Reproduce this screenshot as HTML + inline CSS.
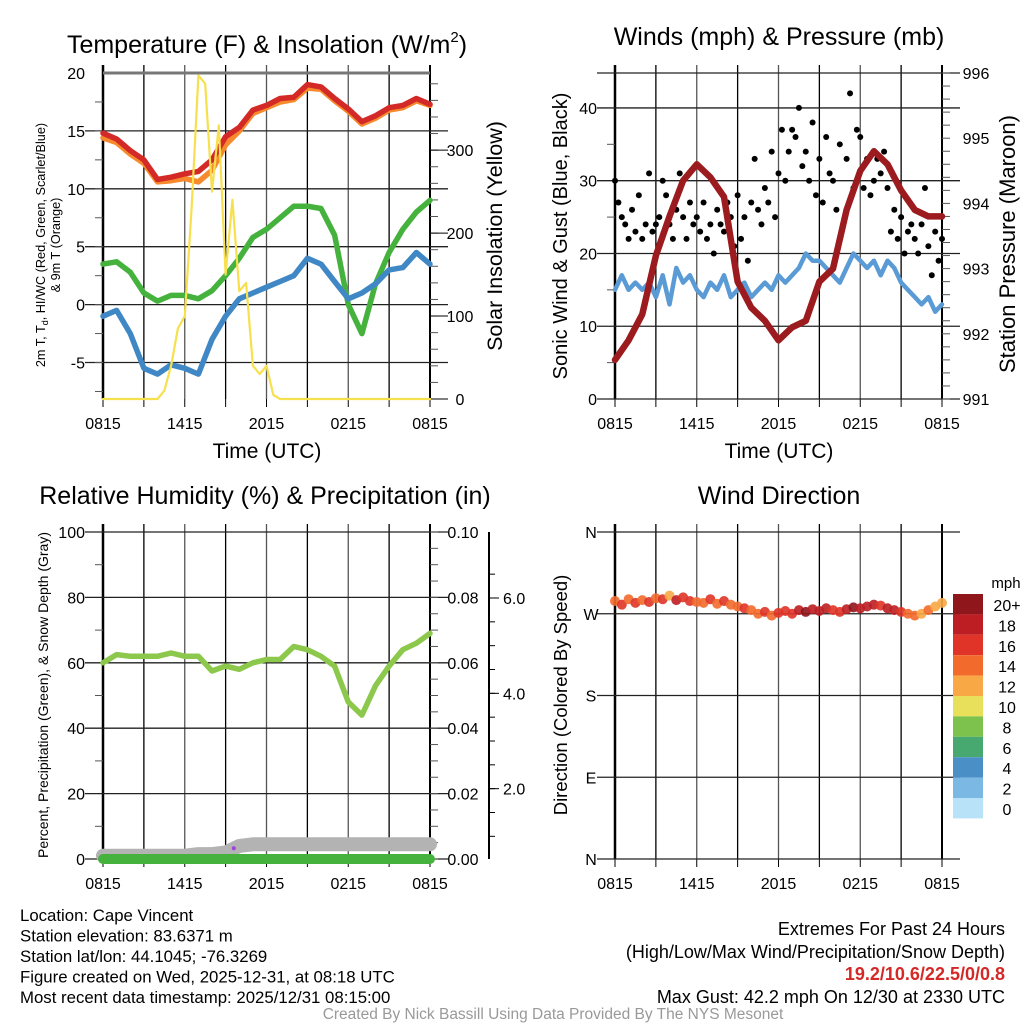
<!DOCTYPE html>
<html><head><meta charset="utf-8"><style>
body{margin:0;background:#fff;}
svg{display:block;font-family:"Liberation Sans",sans-serif;}
</style></head><body>
<svg id="s" width="1024" height="1024" viewBox="0 0 1024 1024" xmlns="http://www.w3.org/2000/svg"></svg>
<script>
// ---- data ----
const timeLabels = ["0815","1415","2015","0215","0815"];
const tempRed = [14.8,14.3,13.3,12.5,10.8,11.0,11.3,11.5,12.5,14.5,15.3,16.8,17.2,17.8,17.9,19.0,18.8,17.8,16.9,15.8,16.3,17.0,17.2,17.8,17.3];
const temp9mOrange = [14.4,14.0,13.0,12.2,10.6,10.7,10.9,10.6,11.6,13.8,15.0,16.5,17.0,17.5,17.7,18.7,18.6,17.6,16.7,15.6,16.1,16.8,17.0,17.6,17.2];
const dewGreen = [3.5,3.7,2.8,1.0,0.3,0.8,0.8,0.5,1.2,2.5,4.0,5.8,6.5,7.5,8.5,8.5,8.3,6.0,0.0,-2.5,1.8,4.5,6.5,8.0,9.0];
const windChillBlue = [-1.0,-0.5,-2.5,-5.5,-6.0,-5.2,-5.5,-6.0,-3.0,-1.0,0.5,1.0,1.5,2.0,2.5,4.0,3.5,2.0,0.5,1.0,1.8,3.0,3.2,4.5,3.5];
const solarYellow = [0,0,0,0,0,0,0,0,0,10,40,85,100,230,390,380,250,330,150,240,130,140,40,30,40,5,0,0,0,0,0,0,0,0,0,0,0,0,0,0,0,0,0,0,0,0,0,0,0];
const windSpeed = [15,17,15,16,15,16,14,17,13,18,16,17,15,14,16,15,17,14,15,16,14,15,16,15,17,16,17,18,20,19,19,18,17,16,18,20,19,18,19,17,19,18,16,15,14,13,14,12,13];
const windGust = [30,27,25,24,22,26,23,28,22,24,31,23,24,25,30,28,24,22,26,31,25,22,27,24,25,23,27,22,24,20,26,24,23,27,25,21,28,22,25,19,27,33,26,24,29,27,34,25,31,37,30,34,37,36,40,32,34,30,38,28,33,27,36,31,30,26,35,24,33,42,29,37,36,29,33,28,30,33,31,34,29,23,26,22,25,20,23,24,22,20,24,29,21,17,23,19,22];
const pressure = [991.6,991.9,992.3,993.2,993.8,994.35,994.6,994.4,994.1,992.8,992.4,992.2,991.9,992.1,992.2,992.8,993.0,993.9,994.5,994.8,994.6,994.2,993.9,993.8,993.8];
const rhGreen = [60,62.5,62,62,62,63,62,62,57.5,59,58,60,61,61,65,64,62,59,48,44,53,59,64,66,69];
const snowGray = [1,1,1,1,1,1,1,1.5,1.5,2,4,4.5,4.5,4.5,4.5,4.5,4.5,4.5,4.5,4.5,4.5,4.5,4.5,4.5,4.5];
const precipGreen = [0,0,0,0,0,0,0,0,0,0,0,0,0,0,0,0,0,0,0,0,0,0,0,0,0];
const windDir = [284,280,286,282,285,283,287,286,290,285,288,284,283,282,286,281,284,280,278,276,274,270,272,268,271,273,270,274,272,275,273,276,274,272,275,277,276,278,280,279,276,274,272,270,268,270,274,278,282];
const legendLabels = ["20+","18","16","14","12","10","8","6","4","2","0"];
const legendColors = ["#8f161b","#bd1e24","#df3427","#f26a2c","#f8a845","#e8e05a","#7cc24c","#47a870","#4a8fc6","#7cb8e4","#b8e2f8"];
const infoLines = ["Location: Cape Vincent","Station elevation: 83.6371 m","Station lat/lon: 44.1045; -76.3269","Figure created on Wed, 2025-12-31, at 08:18 UTC","Most recent data timestamp: 2025/12/31 08:15:00"];

const NS="http://www.w3.org/2000/svg";
const svg=document.getElementById('s');
function mk(tag,attrs,name,parent){
  const el=document.createElementNS(NS,tag);
  for(const k in attrs) el.setAttribute(k,attrs[k]);
  
  
  (parent||svg).appendChild(el);
  return el;
}
function txt(x,y,s,size,anchor,name,extra){
  const a=Object.assign({x:x,y:y,'font-size':size,'text-anchor':anchor||'middle',fill:'#000'},extra||{});
  const t=mk('text',a,name);
  t.textContent=s;
  return t;
}
function scale(d0,d1,r0,r1){return v=>r0+(v-d0)/(d1-d0)*(r1-r0);}
function path(xs,ys,vals,fx,fy,stroke,w,name){
  let d='';
  vals.forEach((v,i)=>{d+=(i?'L':'M')+fx(xs(i)).toFixed(1)+','+fy(v).toFixed(1);});
  return mk('path',{d:d,fill:'none',stroke:stroke,'stroke-width':w,'stroke-linejoin':'round','stroke-linecap':'round'},name);
}
const TF=16;
function frame(x0,y0,x1,y1,name){
  for(let i=0;i<=8;i++){
    const x=x0+(x1-x0)*i/8;
    mk('line',{x1:x,y1:y0-8,x2:x,y2:y1,stroke:i%2?'#000':'#555','stroke-width':1.3},name+'-vgrid');
    mk('line',{x1:x,y1:y1,x2:x,y2:y1+8,stroke:'#000','stroke-width':1},name+'-xtick');
  }
  mk('line',{x1:x0,y1:y0-8,x2:x0,y2:y1,stroke:'#000','stroke-width':2.5},name+'-left-border');
  mk('line',{x1:x1,y1:y0-8,x2:x1,y2:y1,stroke:'#000','stroke-width':2},name+'-right-border');
  timeLabels.forEach((l,i)=>txt(x0+(x1-x0)*i/4,y1+30,l,TF,'middle',name+'-xlabel'));
}
function hgrid(x0,x1,y,name){mk('line',{x1:x0-18,y1:y,x2:x1+18,y2:y,stroke:'#222','stroke-width':1.3},name);}
function minor(x,y,len,name){mk('line',{x1:x,y1:y,x2:x+len,y2:y,stroke:'#555','stroke-width':1},name);}

// ===== Panel 1 =====
{
const X0=103,X1=430,Y0=73,Y1=399;
const fx=scale(0,24,X0,X1), fy=scale(-8.15,20,Y1,Y0), fyR=scale(0,393,Y1,Y0);
const tt=mk('text',{x:267,y:53,'font-size':25,'text-anchor':'middle',fill:'#000'},'temp-title');
tt.innerHTML='Temperature (F) &amp; Insolation (W/m<tspan font-size="15" dy="-11">2</tspan><tspan dy="11">)</tspan>';
frame(X0,Y0,X1,Y1,'temp');
mk('line',{x1:X0,y1:Y0,x2:X1,y2:Y0,stroke:'#777','stroke-width':3},'temp-top-line');
[15,10,5,0,-5].forEach(v=>hgrid(X0,X1,fy(v),'temp-hgrid'));
[20,15,10,5,0,-5].forEach(v=>txt(85,fy(v)+6,String(v),TF,'end','temp-ylabel'));
for(let v=-7.5;v<20;v+=2.5) minor(X0-8,fy(v),8,'temp-minor-tick');
for(let v=0;v<=390;v+=20) minor(X1,fyR(v),8,'insolation-minor-tick');
[0,100,200,300].forEach(v=>{mk('line',{x1:X1,y1:fyR(v),x2:X1+18,y2:fyR(v),stroke:'#000'},'insolation-tick');txt(460,fyR(v)+6,String(v),TF,'middle','insolation-label');});
path(i=>i,null,temp9mOrange,fx,fy,'#f68a2c',5.5,'temp-9m-orange-line');
path(i=>i,null,tempRed,fx,fy,'#d42a27',5.5,'temp-2m-red-line');
path(i=>i,null,dewGreen,fx,fy,'#44b23c',5.5,'dewpoint-green-line');
path(i=>i,null,windChillBlue,fx,fy,'#3f88c5',5.5,'windchill-blue-line');
path(i=>i/2,null,solarYellow,fx,fyR,'#f7e04e',2.2,'solar-yellow-line');
txt(267,458,"Time (UTC)",21,'middle','temp-xaxis-title');
const t1=mk('text',{'font-size':12.7,'text-anchor':'middle',fill:'#000',transform:'translate(45,245) rotate(-90)'},'temp-yaxis-title');
t1.innerHTML='2m T, T<tspan font-size="9" dy="3">d</tspan><tspan dy="-3">, HI/WC (Red, Green, Scarlet/Blue)</tspan>';
txt(0,0,"& 9m T (Orange)",12.7,'middle','temp-yaxis-title-2',{transform:'translate(60,245) rotate(-90)'});
txt(0,0,"Solar Insolation (Yellow)",21.5,'middle','insolation-axis-title',{transform:'translate(502,236) rotate(-90)'});
}

// ===== Panel 2 =====
{
const X0=615,X1=942,Y0=73,Y1=399;
const fx=scale(0,24,X0,X1), fy=scale(0,44.8,Y1,Y0), fyR=scale(991,996,Y1,Y0);
txt(779,45,"Winds (mph) & Pressure (mb)",25,'middle','wind-title');
frame(X0,Y0,X1,Y1,'wind');
[0,10,20,30,40].forEach(v=>{hgrid(X0,X1,fy(v),'wind-hgrid');txt(597,fy(v)+6,String(v),TF,'end','wind-ylabel');});
hgrid(X0,X1,Y0,'wind-top-line');
for(let v=5;v<45;v+=10) minor(X0-8,fy(v),8,'wind-minor-tick');
for(let v=991;v<=996.01;v+=0.2) minor(X1,fyR(v),8,'pressure-minor-tick');
[991,992,993,994,995,996].forEach(v=>txt(976,fyR(v)+6,String(v),TF,'middle','pressure-label'));
path(i=>i/2,null,windSpeed,fx,fy,'#5a9bd5',4.5,'sonic-wind-blue-line');
windGust.forEach((g,i)=>{mk('circle',{cx:fx(i/4),cy:fy(g),r:3,fill:'#000'},'gust-dot');});
path(i=>i,null,pressure,fx,fyR,'#9b1b1f',6.5,'pressure-maroon-line');
txt(779,458,"Time (UTC)",21,'middle','wind-xaxis-title');
txt(0,0,"Sonic Wind & Gust (Blue, Black)",20,'middle','wind-yaxis-title',{transform:'translate(567,236) rotate(-90)'});
txt(0,0,"Station Pressure (Maroon)",22,'middle','pressure-axis-title',{transform:'translate(1015,244) rotate(-90)'});
}

// ===== Panel 3 =====
{
const X0=103,X1=430,Y0=532,Y1=859;
const fx=scale(0,24,X0,X1), fy=scale(0,100,Y1,Y0), fyR=scale(0,0.1,Y1,Y0);
txt(265,504,"Relative Humidity (%) & Precipitation (in)",25,'middle','rh-title');
frame(X0,Y0,X1,Y1,'rh');
[0,20,40,60,80,100].forEach(v=>{hgrid(X0,X1,fy(v),'rh-hgrid');txt(85,fy(v)+6,String(v),TF,'end','rh-ylabel');});
for(let v=10;v<100;v+=20) minor(X0-8,fy(v),8,'rh-minor-tick');
for(let v=0;v<=0.1001;v+=0.005) minor(X1,fyR(v),8,'precip-minor-tick');
[0,0.02,0.04,0.06,0.08,0.1].forEach(v=>txt(463,fyR(v)+6,v.toFixed(2),TF,'middle','precip-label'));
mk('line',{x1:489,y1:532,x2:489,y2:859,stroke:'#000','stroke-width':2},'snow-axis-line');
const fyS=scale(0,6,884,598);
for(let v=0.5;v<6.9;v+=0.5){const y=fyS(v); if(y>532&&y<859) mk('line',{x1:489,y1:y,x2:495,y2:y,stroke:'#000'},'snow-minor-tick');}
[2,4,6].forEach(v=>{mk('line',{x1:489,y1:fyS(v),x2:499,y2:fyS(v),stroke:'#000'},'snow-tick');txt(503,fyS(v)+6,v.toFixed(1),TF,'start','snow-label');});
path(i=>i,null,snowGray,fx,fy,'#b3b3b3',14,'snow-depth-gray-line');
path(i=>i,null,precipGreen,fx,fy,'#44b23c',10,'precip-green-line');
mk('circle',{cx:fx(9.6),cy:fy(3.3),r:2,fill:'#a040e0'},'purple-dot');
path(i=>i,null,rhGreen,fx,fy,'#8cc84b',5.5,'rh-green-line');
txt(0,0,"Percent, Precipitation (Green), & Snow Depth (Gray)",14,'middle','rh-yaxis-title',{transform:'translate(48,695) rotate(-90)'});
}

// ===== Panel 4 =====
{
const X0=615,X1=942,Y0=532,Y1=859;
const fx=scale(0,24,X0,X1), fy=scale(0,360,Y1,Y0);
txt(779,504,"Wind Direction",25,'middle','direction-title');
frame(X0,Y0,X1,Y1,'direction');
const dl=["N","E","S","W","N"];
[0,90,180,270,360].forEach((v,i)=>{hgrid(X0,X1,fy(v),'direction-hgrid');txt(591,fy(v)+6,dl[i],TF,'middle','direction-ylabel');});
function col(s){const idx=Math.min(10,Math.floor(s/2));return legendColors[10-idx];}
windDir.forEach((d,i)=>{mk('circle',{cx:fx(i/2),cy:fy(d),r:5,fill:col(windSpeed[i]),opacity:0.9},'direction-dot');});
txt(0,0,"Direction (Colored By Speed)",18.5,'middle','direction-yaxis-title',{transform:'translate(567,695) rotate(-90)'});
txt(1006,588,"mph",15,'middle','legend-unit');
legendColors.forEach((c,i)=>{mk('rect',{x:953,y:594+i*20.4,width:30,height:20.4,fill:c},'legend-swatch');txt(1007,611+i*20.4,legendLabels[i],16,'middle','legend-label');});
}

// ===== footer text =====
infoLines.forEach((l,i)=>txt(20,921+i*20.5,l,16.8,'start','station-info'));
txt(1005,935,"Extremes For Past 24 Hours",18,'end','extremes-title');
txt(1005,958,"(High/Low/Max Wind/Precipitation/Snow Depth)",18,'end','extremes-subtitle');
txt(1005,980,"19.2/10.6/22.5/0/0.8",18,'end','extremes-values',{fill:'#d42a27','font-weight':'bold'});
txt(1005,1003,"Max Gust: 42.2 mph On 12/30 at 2330 UTC",18,'end','max-gust');
txt(553,1019,"Created By Nick Bassill Using Data Provided By The NYS Mesonet",15.5,'middle','credit',{fill:'#999'});
</script>
</body></html>
